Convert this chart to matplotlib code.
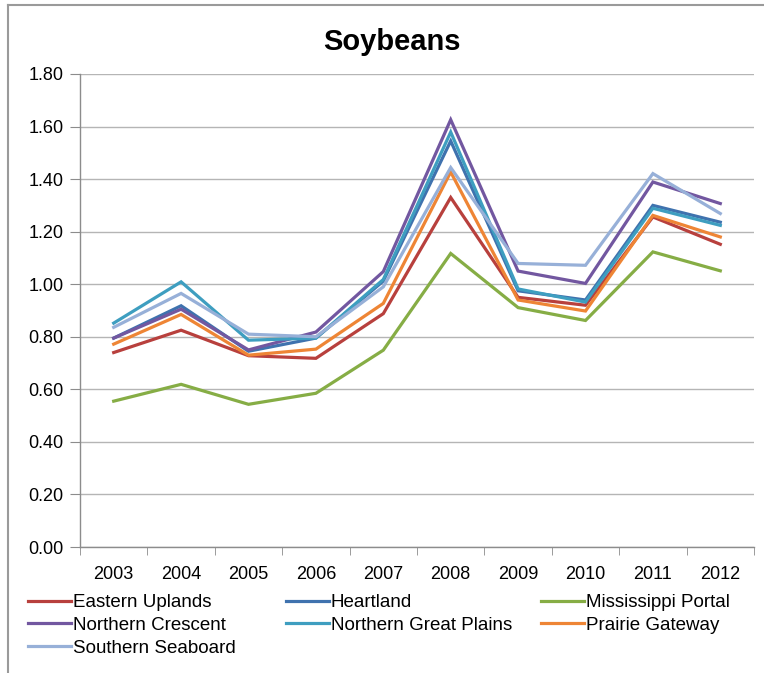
import matplotlib
matplotlib.use("Agg")
import matplotlib.pyplot as plt
from matplotlib.lines import Line2D
import numpy as np

plt.rcParams["font.family"] = ["Liberation Sans", "DejaVu Sans"]

years = [2003, 2004, 2005, 2006, 2007, 2008, 2009, 2010, 2011, 2012]

eastern_uplands = [0.74, 0.825, 0.728, 0.718, 0.888, 1.33, 0.95, 0.92, 1.256, 1.152]
heartland = [0.795, 0.918, 0.745, 0.795, 1.012, 1.545, 0.975, 0.94, 1.30, 1.236]
mississippi_portal = [0.555, 0.619, 0.543, 0.585, 0.749, 1.117, 0.911, 0.862, 1.123, 1.051]
northern_crescent = [0.795, 0.905, 0.75, 0.818, 1.048, 1.626, 1.05, 1.003, 1.389, 1.307]
northern_great_plains = [0.852, 1.009, 0.787, 0.795, 1.018, 1.579, 0.982, 0.932, 1.289, 1.224]
prairie_gateway = [0.772, 0.885, 0.73, 0.753, 0.927, 1.427, 0.94, 0.898, 1.262, 1.18]
southern_seaboard = [0.836, 0.965, 0.81, 0.8, 0.99, 1.444, 1.079, 1.072, 1.421, 1.269]

regions = ["Eastern Uplands", "Heartland", "Mississippi Portal",
           "Northern Crescent", "Northern Great Plains", "Prairie Gateway",
           "Southern Seaboard"]
series = [eastern_uplands, heartland, mississippi_portal, northern_crescent,
          northern_great_plains, prairie_gateway, southern_seaboard]
colors = ["#B8403D", "#3F72AE", "#86AD45", "#7257A0", "#3E9EC0", "#EE8535", "#97B0D8"]

yticks = [0.0, 0.2, 0.4, 0.6, 0.8, 1.0, 1.2, 1.4, 1.6, 1.8]

fig = plt.figure(figsize=(7.64, 6.73), dpi=100)
ax = fig.add_axes([80 / 764, 1 - 547 / 673, 674 / 764, 473 / 673])

lines = []
for name, vals, c in zip(regions, series, colors):
    ln, = ax.plot(years, vals, color=c, lw=2.3, label=name, solid_joinstyle="miter")
    lines.append(ln)

ax.set_xlim(2002.5, 2012.5)
ax.set_ylim(0, 1.8)
ax.set_yticks(yticks)
ax.set_yticklabels(["%.2f" % v for v in yticks])
ax.set_xticks(years)
ax.set_xticks(np.arange(2002.5, 2013, 1.0), minor=True)
ax.tick_params(axis="x", which="major", length=0, pad=14, labelsize=13)
ax.tick_params(axis="x", which="minor", length=6, color="#8C8C8C", direction="out")
ax.tick_params(axis="y", length=7, color="#8C8C8C", direction="out", pad=5, labelsize=13)
ax.grid(axis="y", color="#B5B5B5", lw=1.0)
ax.set_axisbelow(True)
for s in ["top", "right"]:
    ax.spines[s].set_visible(False)
for s in ["left", "bottom"]:
    ax.spines[s].set_color("#8C8C8C")
    ax.spines[s].set_linewidth(1.0)

fig.text(392 / 764, 1 - 42 / 673, "Soybeans", ha="center", va="center",
         fontsize=21, fontweight="bold")

# legend laid out as three columns, filled row by row
col_x = [28 / 764, 286 / 764, 541 / 764]
for i in range(3):
    fig.legend(lines[i::3], regions[i::3], loc="upper left",
               bbox_to_anchor=(col_x[i], 1 - 594 / 673), frameon=False,
               borderpad=0, borderaxespad=0, handlelength=2.3, handletextpad=0.1,
               labelspacing=0.3, fontsize=13.5)

# outer chart frame
fig.add_artist(Line2D([8 / 764, 1], [1 - 5 / 673, 1 - 5 / 673], color="#9A9A9A", lw=1.5))
fig.add_artist(Line2D([8 / 764, 8 / 764], [0, 1 - 5 / 673], color="#9A9A9A", lw=1.5))

fig.savefig("out.png", dpi=100)
